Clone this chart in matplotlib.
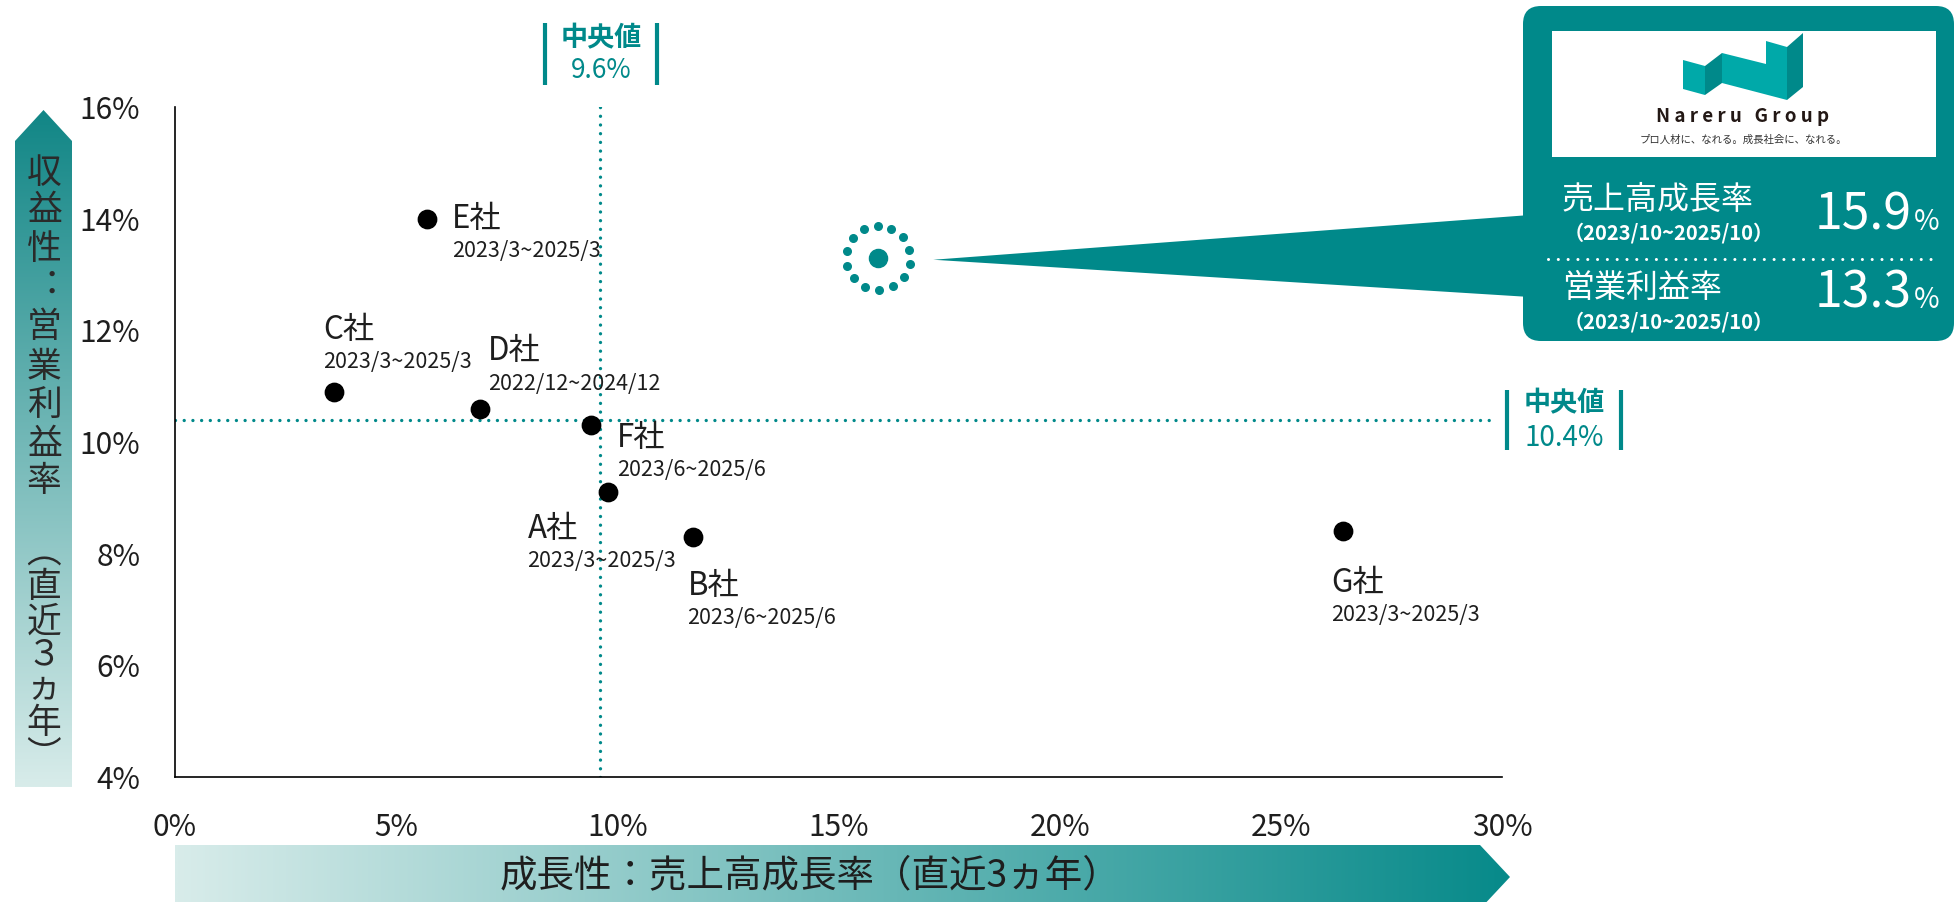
import numpy as np
import matplotlib
matplotlib.use("Agg")
import matplotlib.pyplot as plt
from matplotlib.patches import Polygon, FancyBboxPatch, Rectangle
from matplotlib.colors import to_rgb

plt.rcParams['font.family'] = ['Noto Sans CJK JP', 'DejaVu Sans']

# 各社の成長性・収益性（直近3ヵ年）
companies = ['A社', 'B社', 'C社', 'D社', 'E社', 'F社', 'G社']
periods = ['2023/3~2025/3', '2023/6~2025/6', '2023/3~2025/3', '2022/12~2024/12',
           '2023/3~2025/3', '2023/6~2025/6', '2023/3~2025/3']
sales_growth = [9.8, 11.7, 3.6, 6.9, 5.7, 9.4, 26.4]
op_margin = [9.1, 8.3, 10.9, 10.6, 14.0, 10.3, 8.4]

# 自社
own_name = 'Nareru Group'
own_tagline = 'プロ人材に、なれる。成長社会に、なれる。'
own_growth = 15.9
own_margin = 13.3
own_period = '（2023/10~2025/10）'

median_growth = 9.6
median_margin = 10.4

x_ticks = [0, 5, 10, 15, 20, 25, 30]
y_ticks = [4, 6, 8, 10, 12, 14, 16]
x_title = '成長性：売上高成長率（直近3ヵ年）'
# 縦書き用の表記（コロン・括弧は縦書き形）
y_title = '収益性︓営業利益率︵直近３ヵ年︶'

TEAL = '#00898A'
LIGHT_TEAL = '#00A9A9'
DARK = '#1e1e1e'
W, H = 1956, 902

fig = plt.figure(figsize=(W / 100, H / 100), dpi=100)
ax = fig.add_axes([175 / W, (H - 777) / H, (1502 - 175) / W, (777 - 107) / H])
ax.set_xlim(0, 30)
ax.set_ylim(4, 16)
for s in ['top', 'right']:
    ax.spines[s].set_visible(False)
for s in ['left', 'bottom']:
    ax.spines[s].set_linewidth(1.2)
ax.set_xticks(x_ticks)
ax.set_xticklabels([f'{t}%' for t in x_ticks])
ax.set_yticks(y_ticks)
ax.set_yticklabels([f'{t}%' for t in y_ticks])
ax.tick_params(axis='x', length=0, pad=25, labelsize=21.5, labelcolor=DARK)
ax.tick_params(axis='y', length=0, pad=25, labelsize=21.5, labelcolor=DARK)

# 中央値の点線
dots = (0, (0.01, 2.6))
ax.axvline(median_growth, color=TEAL, lw=2.4, ls=dots, dash_capstyle='round')
ax.axhline(median_margin, xmax=0.994, color=TEAL, lw=2.4, ls=dots, dash_capstyle='round')

# 各社
ax.scatter(sales_growth, op_margin, s=175, color='black', zorder=5, clip_on=False)
label_offsets = {'A社': (-81, -37), 'B社': (-5, -49), 'C社': (-11, 62), 'D社': (8, 57),
                 'E社': (25, 0), 'F社': (26, -13), 'G社': (-12, -52)}
for name, period, gx, gy in zip(companies, periods, sales_growth, op_margin):
    dx, dy = label_offsets[name]
    ax.annotate(name, (gx, gy), xytext=(dx, dy), textcoords='offset pixels',
                ha='left', va='center', fontsize=22.5, color=DARK)
    ax.annotate(period, (gx, gy), xytext=(dx, dy - 32), textcoords='offset pixels',
                ha='left', va='center', fontsize=15.5, color=DARK)

ax.scatter([own_growth], [own_margin], s=170, color=TEAL, zorder=6)

# 図全体に重ねる装飾用の軸（ピクセル座標、y は下向き）
ov = fig.add_axes([0, 0, 1, 1], zorder=10)
ov.set_xlim(0, W)
ov.set_ylim(H, 0)
ov.axis('off')
ov.patch.set_alpha(0)


def to_px(x, y):
    px, py = ax.transData.transform((x, y))
    return px, H - py


def gradient_fill(poly, c0, c1, vertical):
    c0, c1 = np.array(to_rgb(c0)), np.array(to_rgb(c1))
    t = np.linspace(0, 1, 256)
    grad = c0[None, :] * (1 - t[:, None]) + c1[None, :] * t[:, None]
    img = grad[:, None, :] if vertical else grad[None, :, :]
    patch = Polygon(poly, closed=True, facecolor='none', edgecolor='none')
    ov.add_patch(patch)
    xs = [p[0] for p in poly]
    ys = [p[1] for p in poly]
    im = ov.imshow(img, extent=(min(xs), max(xs), max(ys), min(ys)),
                   aspect='auto', interpolation='bilinear', zorder=1)
    im.set_clip_path(patch)


# 縦軸の矢印と見出し（縦書き）
gradient_fill([(15, 787), (15, 141), (43.5, 110), (72, 141), (72, 787)],
              '#118686', '#d8ecea', vertical=True)
ychar = [173, 211, 250, 288, 328, 367, 405, 444, 482, 553, 587, 622, 655, 689, 724, 756]
for ch, yc in zip(y_title, ychar):
    ov.text(44, yc, ch, ha='center', va='center', fontsize=25, color='#2a2a2a', zorder=3)

# 横軸の矢印と見出し
gradient_fill([(175, 845), (1480, 845), (1510, 877), (1480, 909), (175, 909)],
              '#d8ecea', '#078a8a', vertical=False)
ov.text(810, 876, x_title, ha='center', va='center', fontsize=27, color=DARK, zorder=3)

# 中央値ラベル
mx = to_px(median_growth, 16)[0] + 2
for bx in (mx - 57, mx + 55):
    ov.plot([bx, bx], [23, 85], color=TEAL, lw=3, solid_capstyle='butt')
ov.text(mx, 38, '中央値', ha='center', va='center', fontsize=19.5, color=TEAL, fontweight='bold')
ov.text(mx, 71, f'{median_growth}%', ha='center', va='center', fontsize=19, color=TEAL)

my = to_px(30, median_margin)[1]
rx = 1564
for bx in (rx - 57, rx + 57):
    ov.plot([bx, bx], [my - 30, my + 30], color=TEAL, lw=3, solid_capstyle='butt')
ov.text(rx, my - 16, '中央値', ha='center', va='center', fontsize=19.5, color=TEAL, fontweight='bold')
ov.text(rx, my + 18, f'{median_margin}%', ha='center', va='center', fontsize=20, color=TEAL)

# 自社の点を囲む点線の輪
px, py = to_px(own_growth, own_margin)
ang = np.linspace(0, 2 * np.pi, 14, endpoint=False) + 0.2
ov.scatter(px + 32 * np.cos(ang), py + 32 * np.sin(ang), s=30, color=TEAL, zorder=4)

# 吹き出し
ov.add_patch(Polygon([(px + 55, py + 2), (1530, 215), (1530, 297)], closed=True,
                     facecolor=TEAL, edgecolor='none', zorder=2))
ov.add_patch(FancyBboxPatch((1523, 6), 1954 - 1523, 341 - 6,
                            boxstyle='round,pad=0,rounding_size=18',
                            facecolor=TEAL, edgecolor='none', zorder=2))
ov.add_patch(Rectangle((1552, 31), 384, 126, facecolor='white', edgecolor='none', zorder=3))

# ロゴマーク
logo_light = [[(1683, 60), (1705, 66), (1705, 95), (1683, 89)],
              [(1722, 53), (1766, 64), (1766, 41), (1787, 47), (1787, 100), (1722, 83)]]
logo_dark = [[(1705, 66), (1722, 53), (1722, 83), (1705, 95)],
             [(1787, 47), (1803, 33), (1803, 87), (1787, 100)]]
for pts in logo_light:
    ov.add_patch(Polygon(pts, closed=True, facecolor=LIGHT_TEAL, edgecolor='none', zorder=4))
for pts in logo_dark:
    ov.add_patch(Polygon(pts, closed=True, facecolor=TEAL, edgecolor='none', zorder=4))
ov.text(1743, 117, ' '.join(own_name), ha='center', va='center', fontsize=13.5,
        fontweight='bold', color='#231815', zorder=4)
ov.text(1743, 140, own_tagline, ha='center', va='center', fontsize=7.5, color='#333333', zorder=4)

# 吹き出しの数値
ov.text(1562, 200, '売上高成長率', ha='left', va='center', fontsize=23, color='white', zorder=4)
ov.text(1564, 233, own_period, ha='left', va='center', fontsize=14.5, color='white',
        fontweight='bold', zorder=4)
ov.plot([1548, 1940], [259, 259], color='white', lw=2.2, ls=(0, (0.01, 3.2)),
        dash_capstyle='round', zorder=4)
ov.text(1562, 288, '営業利益率', ha='left', va='center', fontsize=23, color='white', zorder=4)
ov.text(1564, 322, own_period, ha='left', va='center', fontsize=14.5, color='white',
        fontweight='bold', zorder=4)

for val, base in ((own_growth, 230), (own_margin, 308)):
    ov.text(1912, base, f'{val}', ha='right', va='baseline', fontsize=36,
            color='white', zorder=4)
    ov.text(1914, base, '%', ha='left', va='baseline', fontsize=20, color='white', zorder=4)

fig.savefig('out.png', dpi=100)
